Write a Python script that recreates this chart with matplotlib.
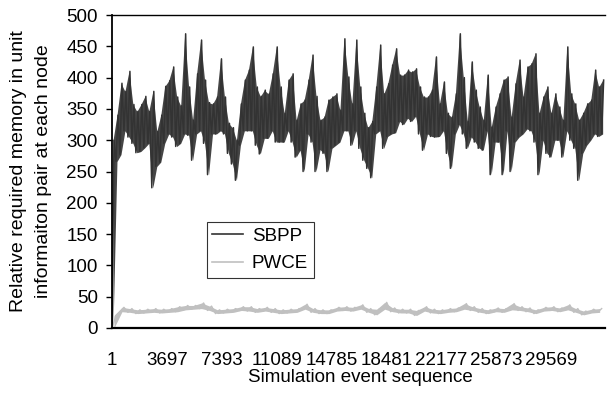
import numpy as np
import matplotlib
matplotlib.use("Agg")
import matplotlib.pyplot as plt
from matplotlib.lines import Line2D

# ---------------- data ----------------
event_ticks = [1, 3697, 7393, 11089, 14785, 18481, 22177, 25873, 29569]
n_events = 33190

# SBPP: local low / high readings every 268 events
sbpp_step = 268
sbpp_hi = [300, 340, 391, 378, 410, 357, 346, 357, 370, 346, 378, 314, 340, 386, 395, 417,
           369, 355, 470, 385, 332, 406, 460, 396, 360, 358, 369, 430, 369, 327, 320, 300,
           358, 396, 412, 449, 385, 370, 380, 374, 406, 449, 385, 343, 396, 406, 332, 358,
           364, 396, 436, 370, 332, 337, 364, 369, 374, 348, 462, 401, 358, 460, 385, 343,
           320, 330, 385, 452, 374, 390, 420, 446, 404, 404, 412, 409, 414, 385, 369, 369,
           380, 433, 358, 393, 343, 337, 374, 470, 400, 330, 425, 380, 353, 332, 404, 321,
           353, 374, 396, 401, 337, 390, 428, 369, 417, 422, 438, 343, 369, 385, 343, 374,
           353, 332, 449, 374, 358, 332, 343, 358, 364, 412, 385, 396]
sbpp_lo = [0, 266, 277, 315, 305, 295, 280, 282, 288, 295, 224, 258, 265, 295, 310, 305,
           290, 295, 310, 308, 268, 310, 315, 295, 245, 310, 310, 315, 310, 279, 262, 236,
           292, 315, 315, 315, 292, 278, 303, 303, 315, 297, 297, 297, 315, 297, 273, 284,
           250, 310, 297, 250, 285, 279, 250, 287, 292, 297, 315, 315, 292, 315, 287, 268,
           255, 240, 310, 315, 287, 306, 310, 312, 330, 325, 335, 330, 338, 310, 284, 310,
           306, 305, 306, 315, 279, 255, 310, 325, 310, 287, 305, 297, 287, 284, 315, 245,
           297, 297, 245, 315, 250, 297, 305, 310, 318, 315, 297, 245, 300, 279, 273, 300,
           300, 273, 315, 300, 287, 236, 279, 292, 300, 310, 306, 310]

# PWCE: local low / high readings every 536 events
pwce_step = 536
pwce_hi = [20, 33, 31, 29, 30, 31, 30, 31, 34, 36, 36, 40, 35, 29, 30, 31,
           34, 34, 31, 33, 31, 29, 30, 31, 38, 31, 29, 29, 33, 34, 33, 37,
           31, 30, 41, 32, 30, 30, 28, 34, 30, 29, 31, 32, 39, 34, 31, 29,
           32, 31, 39, 34, 32, 29, 33, 34, 32, 37, 31, 27, 30, 31]
pwce_lo = [0, 26, 25, 23, 24, 25, 24, 25, 26, 29, 30, 31, 28, 23, 24, 25,
           28, 27, 25, 27, 25, 23, 24, 25, 30, 25, 23, 23, 27, 28, 27, 30,
           25, 21, 30, 26, 24, 24, 20, 27, 24, 23, 25, 26, 30, 28, 25, 23,
           26, 25, 29, 28, 26, 23, 27, 28, 26, 29, 25, 21, 24, 25]

y_ticks = list(range(0, 501, 50))

SBPP_C = "#333333"
PWCE_C = "#c0c0c0"


def zigzag(lo, hi, step):
    xs, ys = [], []
    for k, (l, h) in enumerate(zip(lo, hi)):
        xs += [1 + step * k, 1 + step * k + step / 2]
        ys += [l, h]
    return xs, ys


def band(ax, lo, hi, step, fill_c, line_c, lw):
    xc = [1 + step * k + step / 4 for k in range(len(lo))]
    ax.fill_between(xc, lo, hi, color=fill_c, lw=0)
    xs, ys = zigzag(lo, hi, step)
    ax.plot(xs, ys, color=line_c, lw=lw)


# ---------------- figure ----------------
plt.rcParams["font.family"] = ["Liberation Sans", "DejaVu Sans"]
FS = 13.5
W, H = 608, 398
fig = plt.figure(figsize=(W / 100, H / 100), dpi=100)
ax_l, ax_r, ax_t, ax_b = 111.5, 605, 15, 328
ax = fig.add_axes([ax_l / W, 1 - ax_b / H, (ax_r - ax_l) / W, (ax_b - ax_t) / H])

band(ax, sbpp_lo, sbpp_hi, sbpp_step, "#454545", SBPP_C, 1.1)
band(ax, pwce_lo, pwce_hi, pwce_step, PWCE_C, PWCE_C, 1.0)

ax.set_xlim(-33, n_events)
ax.set_ylim(0, 500)
ax.set_yticks(y_ticks)
ax.set_yticklabels([str(v) for v in y_ticks], fontsize=FS)
ax.set_xticks(event_ticks)
ax.set_xticklabels([str(v) for v in event_ticks], fontsize=FS)
ax.tick_params(axis="x", length=0, pad=17.5)
ax.tick_params(axis="y", length=4.3, width=1, pad=5.5, direction="out")

ax.spines["right"].set_visible(False)
ax.spines["left"].set_linewidth(1.3)
ax.spines["bottom"].set_linewidth(1.6)
ax.spines["top"].set_linewidth(1.0)

fig.text(31 / W, 1 - 171 / H,
         "Relative required memory in unit\ninformaiton pair at each node",
         rotation=90, ha="center", va="center", fontsize=14, linespacing=1.55,
         multialignment="center")
fig.text(360 / W, 1 - 382 / H, "Simulation event sequence", ha="center",
         va="baseline", fontsize=FS)

handles = [Line2D([], [], color=SBPP_C, lw=1.2), Line2D([], [], color=PWCE_C, lw=1.2)]
leg = fig.legend(handles, ["SBPP", "PWCE"], loc="upper left",
                 bbox_to_anchor=(206.7 / W, 1 - 222 / H), bbox_transform=fig.transFigure,
                 fontsize=FS, frameon=True, fancybox=False, borderaxespad=0,
                 handlelength=1.65, handletextpad=0.45, borderpad=0.3,
                 labelspacing=0.55)
leg.get_frame().set_edgecolor("black")
leg.get_frame().set_linewidth(0.8)

fig.savefig("out.png", dpi=100)
